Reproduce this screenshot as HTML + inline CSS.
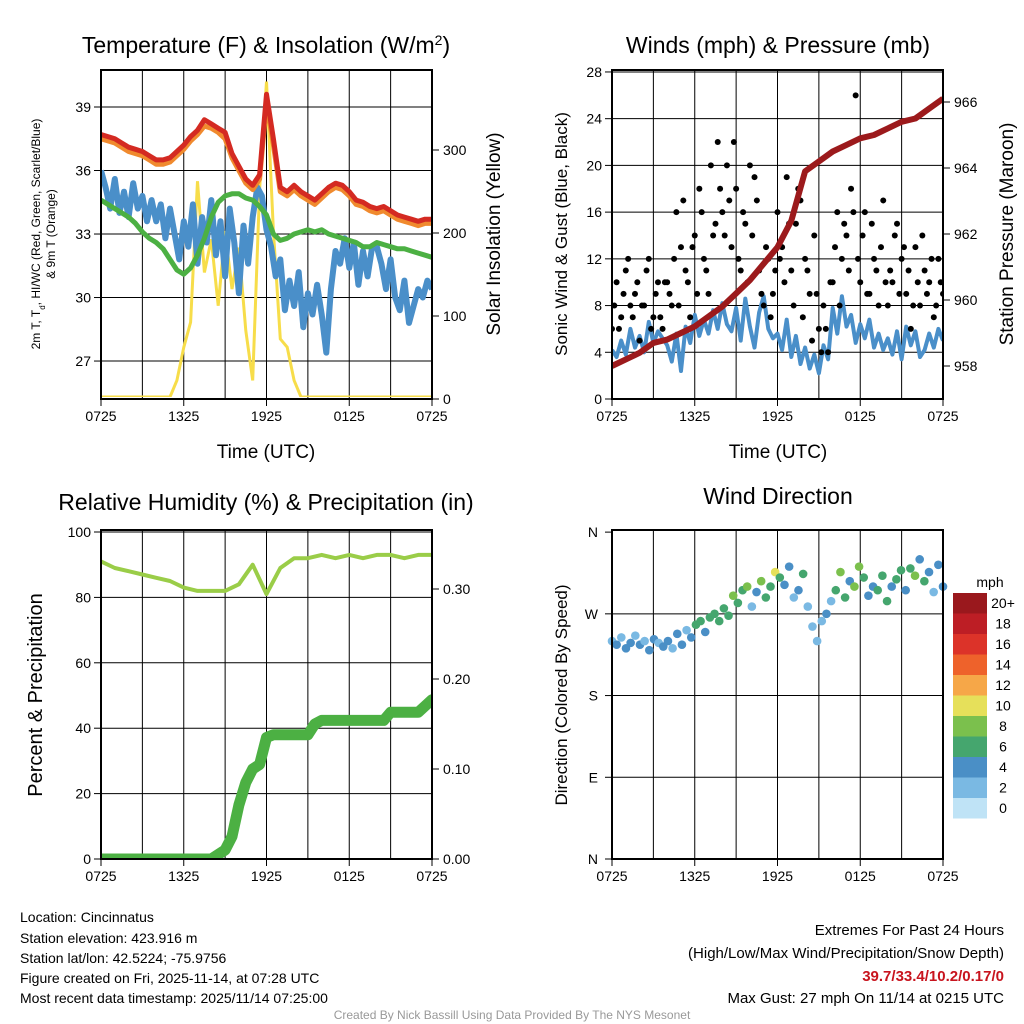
<!DOCTYPE html>
<html><head><meta charset="utf-8">
<style>
html,body{margin:0;padding:0;background:#fff;}
svg{display:block;font-family:"Liberation Sans",Arial,sans-serif;}
</style></head>
<body>
<svg id="c" width="1024" height="1024" viewBox="0 0 1024 1024">
<g id="layer"></g>
<text x="266" y="53" font-size="23" text-anchor="middle">Temperature (F) &amp; Insolation (W/m<tspan baseline-shift="super" font-size="14">2</tspan>)</text>
<text x="778" y="53" font-size="23" text-anchor="middle">Winds (mph) &amp; Pressure (mb)</text>
<text x="266" y="510" font-size="23" text-anchor="middle">Relative Humidity (%) &amp; Precipitation (in)</text>
<text x="778" y="504" font-size="23" text-anchor="middle">Wind Direction</text>

<text transform="translate(40,234) rotate(-90)" font-size="12" text-anchor="middle">2m T, T<tspan baseline-shift="sub" font-size="8">d</tspan>, HI/WC (Red, Green, Scarlet/Blue)</text>
<text transform="translate(55,234) rotate(-90)" font-size="12" text-anchor="middle">&amp; 9m T (Orange)</text>
<text transform="translate(500,234) rotate(-90)" font-size="19" text-anchor="middle">Solar Insolation (Yellow)</text>
<text x="266" y="458" font-size="19" text-anchor="middle">Time (UTC)</text>
<text transform="translate(567,234) rotate(-90)" font-size="17" text-anchor="middle">Sonic Wind &amp; Gust (Blue, Black)</text>
<text transform="translate(1013,234) rotate(-90)" font-size="19" text-anchor="middle">Station Pressure (Maroon)</text>
<text x="778" y="458" font-size="19" text-anchor="middle">Time (UTC)</text>
<text transform="translate(42,695) rotate(-90)" font-size="20" text-anchor="middle">Percent &amp; Precipitation</text>
<text transform="translate(567,695) rotate(-90)" font-size="17" text-anchor="middle">Direction (Colored By Speed)</text>
<text x="990" y="587" font-size="14" text-anchor="middle">mph</text>

<g font-size="14">
<text x="20" y="922">Location: Cincinnatus</text>
<text x="20" y="943">Station elevation: 423.916 m</text>
<text x="20" y="963">Station lat/lon: 42.5224; -75.9756</text>
<text x="20" y="983">Figure created on Fri, 2025-11-14, at 07:28 UTC</text>
<text x="20" y="1003">Most recent data timestamp: 2025/11/14 07:25:00</text>
</g>
<g font-size="15" text-anchor="end">
<text x="1004" y="935">Extremes For Past 24 Hours</text>
<text x="1004" y="958">(High/Low/Max Wind/Precipitation/Snow Depth)</text>
<text x="1004" y="981" fill="#c8141e" font-weight="bold">39.7/33.4/10.2/0.17/0</text>
<text x="1004" y="1003">Max Gust: 27 mph On 11/14 at 0215 UTC</text>
</g>
<text x="512" y="1019" font-size="12" fill="#999" text-anchor="middle">Created By Nick Bassill Using Data Provided By The NYS Mesonet</text>
</svg>
<script>
// ---- data ----
const xLabels = ["0725","1325","1925","0125","0725"];
const tempTicks = [27,30,33,36,39];
const solarTicks = [0,100,200,300];
const windTicks = [0,4,8,12,16,20,24,28];
const presTicks = [958,960,962,964,966];
const rhTicks = [0,20,40,60,80,100];
const precipTicks = [0.00,0.10,0.20,0.30];
const dirTicks = ["N","E","S","W","N"];
const cbLabels = ["20+","18","16","14","12","10","8","6","4","2","0"];
const cbColors = ["#9a181d","#bd1e25","#dc3329","#ee622b","#f6a748","#e6e05a","#7bc04d","#45a66e","#4a8fc6","#7ab9e3","#bfe3f6"];

const tempRed = [37.7,37.6,37.5,37.3,37.1,37.0,36.9,36.7,36.5,36.5,36.6,36.9,37.2,37.6,37.9,38.4,38.2,38.0,37.8,36.8,36.2,35.6,35.3,35.8,39.6,37.5,35.2,35.0,35.3,35.0,34.8,34.6,34.9,35.2,35.4,35.3,35.0,34.6,34.5,34.3,34.2,34.3,34.1,33.9,33.8,33.7,33.6,33.7,33.7];
const tempOrange = [37.5,37.4,37.3,37.1,36.9,36.8,36.7,36.5,36.3,36.3,36.4,36.7,37.0,37.4,37.7,38.1,38.0,37.8,37.5,36.6,36.0,35.4,35.1,35.6,39.2,37.2,35.0,34.8,35.1,34.8,34.6,34.4,34.7,35.0,35.2,35.1,34.8,34.4,34.3,34.1,34.0,34.1,33.9,33.7,33.6,33.5,33.4,33.5,33.5];
const dewGreen = [34.6,34.4,34.2,34.0,33.8,33.5,33.1,32.8,32.6,32.3,31.8,31.3,31.1,31.4,32.0,32.8,33.8,34.5,34.8,34.9,34.9,34.7,34.6,34.3,33.9,33.0,32.7,32.8,33.0,33.1,33.2,33.1,33.2,33.0,32.9,32.8,32.7,32.6,32.4,32.4,32.6,32.5,32.4,32.3,32.3,32.2,32.1,32.0,31.9];
const windChill = [36.0,35.2,34.2,35.6,34.0,35.0,33.8,35.4,34.2,34.8,33.6,34.6,
 33.6,34.4,32.8,34.2,33.0,31.8,33.6,32.4,34.4,31.6,33.8,32.6,
 34.6,32.0,33.6,31.0,34.2,32.6,30.2,33.4,31.6,33.8,35.2,34.8,
 33.2,32.4,31.0,31.8,29.4,30.8,29.6,31.2,28.6,30.2,29.2,30.6,
 29.2,27.4,30.4,32.2,31.6,32.8,31.4,32.6,30.6,32.2,31.0,32.4,
 32.4,31.6,30.4,31.8,30.0,29.4,30.8,28.8,29.6,30.4,30.0,30.8,30.4];
const solar = [0,0,0,0,0,0,0,0,0,0,0,20,60,90,260,150,190,110,200,130,180,80,20,250,380,200,70,60,20,0,0,0,0,0,0,0,0,0,0,0,0,0,0,0,0,0,0,0,0];

const windSonic = [4.2,3.6,5.0,3.8,6.0,4.4,5.4,4.0,6.6,4.8,5.8,5.2,
 4.6,3.2,5.6,2.4,6.2,4.8,7.2,5.4,6.8,5.6,7.6,6.0,
 8.2,6.4,5.8,7.8,5.0,8.6,6.2,4.4,7.4,8.8,6.0,5.2,
 5.6,4.2,6.8,3.6,5.4,3.0,4.4,2.6,3.8,2.2,4.6,3.4,
 7.8,5.6,8.8,6.2,7.2,4.8,6.4,5.2,6.8,4.4,5.6,4.2,
 5.2,3.8,5.8,3.4,6.2,4.6,5.8,3.6,4.2,5.6,4.4,6.0,5.0];
const gusts = [6,10,7,11,8,9,5,8,12,7,10,6,
 10,8,16,13,11,7,14,18,12,9,14,22,
 16,20,13,18,11,15,20,19,11,8,12,9,
 16,13,19,11,15,17,12,9,14,6,8,4,
 10,16,12,14,18,26,10,16,9,12,8,17,
 8,10,15,12,9,6,13,8,11,10,7,12,9];
const gusts2 = [8,6,9,12,7,10,8,11,6,9,7,10,
 9,12,8,17,10,13,9,16,11,20,15,18,
 14,17,22,12,16,10,14,17,9,13,7,11,
 12,10,15,8,18,7,11,5,9,4,6,10,
 13,8,15,11,16,12,14,9,15,11,13,10,
 11,14,9,13,11,8,10,14,9,12,8,10,7];
const pressure = [958.0,958.2,958.4,958.7,958.8,959.0,959.2,959.5,959.8,960.2,960.6,961.1,961.6,962.4,963.9,964.2,964.5,964.7,964.9,965.0,965.2,965.4,965.5,965.8,966.1];

const rh = [91,89,88,87,86,85,83,82,82,82,84,90,81,89,92,92,93,92,93,92,93,93,92,93,93];
const precip = [0,0,0,0,0,0,0,0,0,0,0,0,0,0,0,0,0,0.005,0.01,0.025,0.06,0.085,0.10,0.105,0.135,0.138,0.138,0.138,0.138,0.138,0.138,0.15,0.154,0.154,0.154,0.154,0.154,0.154,0.154,0.154,0.154,0.154,0.163,0.163,0.163,0.163,0.163,0.17,0.177];

const wdDir = [240,236,244,232,238,246,236,240,230,242,238,234,
 240,232,248,236,252,244,258,262,250,266,270,262,
 276,268,290,282,296,300,278,294,306,288,300,316,
 310,302,322,288,296,314,278,256,240,262,270,284,
 296,316,288,306,300,322,310,290,300,296,312,284,
 300,308,318,296,320,312,330,306,316,294,324,300];
const wdSpd = [3,4,3,4,5,3,4,3,4,5,3,4,
 4,3,4,5,3,4,6,7,5,6,7,6,
 6,7,8,6,7,9,3,5,8,7,6,10,
 7,5,4,3,4,6,3,2,2,3,4,3,
 6,8,7,5,9,8,6,5,4,6,7,6,
 5,6,7,4,6,8,5,7,4,3,5,4];

// ---- scales ----
const NS='http://www.w3.org/2000/svg';
const L=document.getElementById('layer');
function mk(tag,at,parent){const e=document.createElementNS(NS,tag);for(const k in at)e.setAttribute(k,at[k]);(parent||L).appendChild(e);return e;}
const xL=h=>101+h*331/24, xR=h=>612+h*331/24;
const yTemp=t=>107+(39-t)*21.17, ySol=s=>399-s*0.83;
const yWind=w=>399-w*11.68, yPres=p=>366-(p-958)*33;
const yRH=r=>859-r*3.27, yPr=p=>859-p*900;
const yDir=d=>859-d*0.908;
const tOf=(i,n)=>i*24/(n-1);
function pts(arr,xf,yf){return arr.map((v,i)=>xf(tOf(i,arr.length)).toFixed(1)+','+yf(v).toFixed(1)).join(' ');}

function frame(x0,y0,x1,y1,name){
  for(let h=3;h<24;h+=3){const l=mk('line',{x1:x0+h*(x1-x0)/24,x2:x0+h*(x1-x0)/24,y1:y0,y2:y1,stroke:'#000','stroke-width':1});
  }
  xLabels.forEach((t,i)=>{const x=x0+i*(x1-x0)/4;
    mk('line',{x1:x,x2:x,y1:y1,y2:y1+7,stroke:'#000'});
    const tx=mk('text',{x:x,y:y1+22,'font-size':14,'text-anchor':'middle'});tx.textContent=t;
    });
}
function box(x0,y0,x1,y1,name){const r=mk('rect',{x:x0,y:y0,width:x1-x0,height:y1-y0,fill:'none',stroke:'#000','stroke-width':2});
  }
function leftTicks(ticks,yf,x0,x1,grid,name,fmt){ticks.forEach(v=>{const y=yf(v);
  if(grid){const g=mk('line',{x1:x0,x2:x1,y1:y,y2:y,stroke:'#000'});}
  mk('line',{x1:x0-7,x2:x0,y1:y,y2:y,stroke:'#000'});
  const t=mk('text',{x:x0-10,y:y+5,'font-size':14,'text-anchor':'end'});t.textContent=fmt?fmt(v):v;
  });}
function rightTicks(ticks,yf,x1,name,fmt){ticks.forEach(v=>{const y=yf(v);
  mk('line',{x1:x1,x2:x1+7,y1:y,y2:y,stroke:'#000'});
  const t=mk('text',{x:x1+11,y:y+5,'font-size':14});t.textContent=fmt?fmt(v):v;
  });}

// ---- panel 1 ----
frame(101,70,432,399,'temp');
leftTicks(tempTicks,yTemp,101,432,true,'temp');
rightTicks(solarTicks,ySol,432,'solar');
let cp=mk('clipPath',{id:'cp1'});mk('rect',{x:101,y:70,width:331,height:327},cp);
let g1=mk('g',{'clip-path':'url(#cp1)'});
let p;
p=mk('polyline',{points:pts(solar,xL,v=>ySol(v)-2),fill:'none',stroke:'#f7dd4a','stroke-width':3},g1);

p=mk('polyline',{points:pts(windChill,xL,yTemp),fill:'none',stroke:'#4a8fc9','stroke-width':6,'stroke-linejoin':'round'},g1);

p=mk('polyline',{points:pts(dewGreen,xL,yTemp),fill:'none',stroke:'#4cb043','stroke-width':5,'stroke-linejoin':'round'},g1);

p=mk('polyline',{points:pts(tempOrange,xL,yTemp),fill:'none',stroke:'#f08a2e','stroke-width':5,'stroke-linejoin':'round'},g1);

p=mk('polyline',{points:pts(tempRed,xL,yTemp),fill:'none',stroke:'#d42a22','stroke-width':5,'stroke-linejoin':'round'},g1);

box(101,70,432,399,'temp');

// ---- panel 2 ----
frame(612,70,943,399,'winds');
leftTicks(windTicks,yWind,612,943,true,'wind');
rightTicks(presTicks,yPres,943,'pressure');
cp=mk('clipPath',{id:'cp2'});mk('rect',{x:612,y:70,width:331,height:329},cp);
let g2=mk('g',{'clip-path':'url(#cp2)'});
p=mk('polyline',{points:pts(windSonic,xR,yWind),fill:'none',stroke:'#4a8fc9','stroke-width':4,'stroke-linejoin':'round'},g2);

[gusts,gusts2].forEach(arr=>arr.forEach((v,i)=>{const c=mk('circle',{cx:xR(tOf(i,arr.length)+(arr===gusts2?0.17:0)),cy:yWind(v),r:3,fill:'#000'},g2);
  }));
p=mk('polyline',{points:pts(pressure,xR,yPres),fill:'none',stroke:'#9c1a1c','stroke-width':6,'stroke-linejoin':'round'},g2);

box(612,70,943,399,'winds');

// ---- panel 3 ----
frame(101,530,432,859,'humidity');
leftTicks(rhTicks,yRH,101,432,true,'rh');
rightTicks(precipTicks,yPr,432,'precip',v=>v.toFixed(2));
cp=mk('clipPath',{id:'cp3'});mk('rect',{x:101,y:530,width:331,height:329},cp);
let g3=mk('g',{'clip-path':'url(#cp3)'});
p=mk('polyline',{points:pts(rh,xL,yRH),fill:'none',stroke:'#9acd48','stroke-width':4,'stroke-linejoin':'round'},g3);

p=mk('polyline',{points:pts(precip,xL,yPr),fill:'none',stroke:'#4cb043','stroke-width':11,'stroke-linejoin':'round','stroke-linecap':'round'},g3);

box(101,530,432,859,'humidity');

// ---- panel 4 ----
frame(612,530,943,859,'direction');
[0,90,180,270,360].forEach((d,i)=>{const y=yDir(d);
  if(i>0&&i<4){const g=mk('line',{x1:612,x2:943,y1:y,y2:y,stroke:'#000'});}
  mk('line',{x1:605,x2:612,y1:y,y2:y,stroke:'#000'});
  const t=mk('text',{x:598,y:y+5,'font-size':14,'text-anchor':'end'});t.textContent=dirTicks[i];
  });
wdDir.forEach((d,i)=>{const bin=Math.min(10,Math.floor(wdSpd[i]/2));
  const c=mk('circle',{cx:xR(tOf(i,wdDir.length)),cy:yDir(d),r:4.3,fill:cbColors[10-bin]});
  });
box(612,530,943,859,'direction');
cbLabels.forEach((lab,i)=>{const y=593+i*20.5;
  const r=mk('rect',{x:953,y:y,width:34,height:20.5,fill:cbColors[i]});
  
  const t=mk('text',{x:1003,y:y+15,'font-size':14,'text-anchor':'middle'});t.textContent=lab;
  });
</script>
</body></html>
